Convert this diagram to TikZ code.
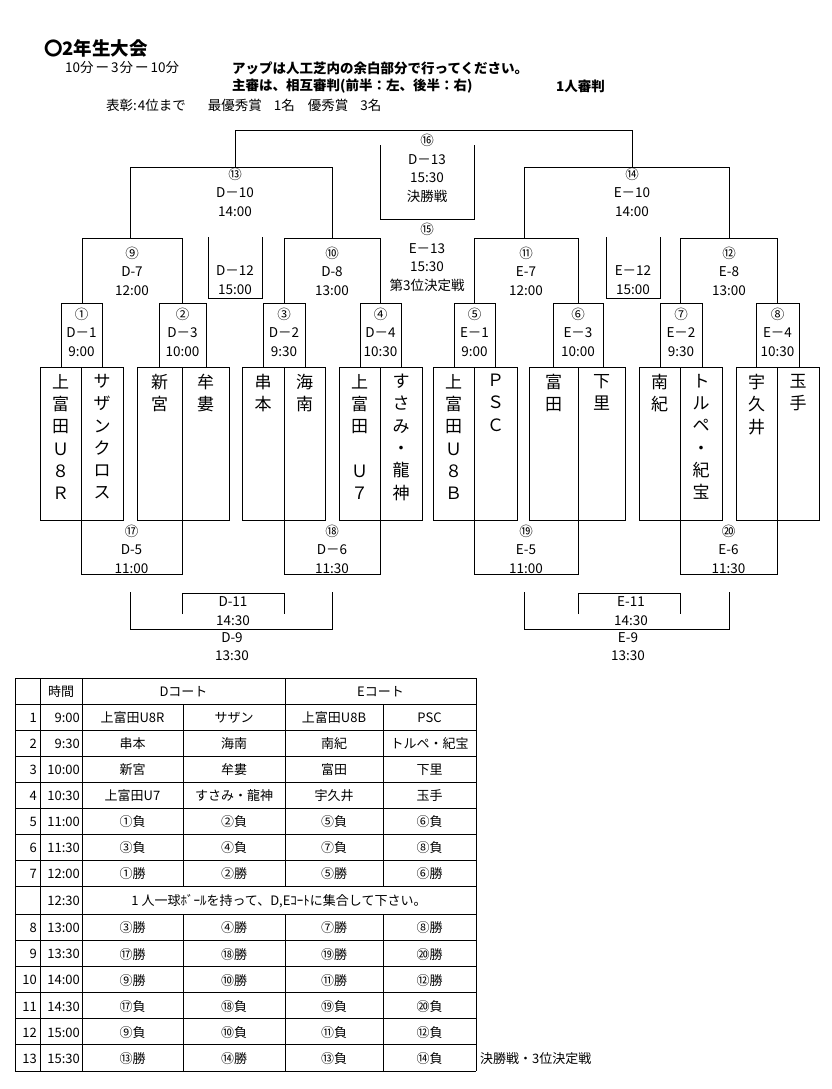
\documentclass[tikz,border=0pt]{standalone}
\usepackage{fontspec}
\setmainfont{Noto Sans CJK JP}
\usetikzlibrary{
  calc,
}
\def\myrowh{26}
\def\mylowh{26.17}
\newcommand{\mybrk}[4]{\draw[brk] (#1,#4) -- (#1,#3) -- (#2,#3) -- (#2,#4);}
\tikzset{
  brk/.style={
    line width=0.9pt
  },
  head/.style={
    anchor=west,
    inner sep=0pt,
    font=\fontsize{13.5}{16}\selectfont
  },
  headbold/.style={
    head,
    font=\fontsize{13.5}{16}\selectfont\bfseries
  },
  lbl/.style={
    align=center,
    inner sep=0pt,
    font=\fontsize{13.5}{18.5}\selectfont
  },
  team/.style={
    align=center,
    anchor=north,
    inner sep=0pt,
    font=\fontsize{17}{22.3}\selectfont
  },
  cell/.style={
    inner sep=0pt,
    font=\fontsize{13}{15}\selectfont
  },
  num/.style={
    cell,
    anchor=east
  }
}
\begin{document}
\begin{tikzpicture}[x=1pt,y=-1pt]
\useasboundingbox (0,0) rectangle (831,1089);

% heading
\node[head,font=\fontsize{18.5}{20}\selectfont\bfseries] (title) at (44,48) {〇2年生大会};
\node[head]     (rule)    at (65,68)  {10分\hspace{2pt}ー\hspace{2pt}3\hspace{1pt}分\hspace{2pt}ー\hspace{2pt}10分};
\node[headbold] (warmup)  at (232,68) {アップは人工芝内の余白部分で行ってください。};
\node[headbold] (referee) at (232,86) {主審は、相互審判(前半：左、後半：右)};
\node[headbold] (oneref)  at (556,86) {1人審判};
\node[head]     (award)   at (106,105) {表彰:\hspace{1pt}4位まで\hspace{22pt}最優秀賞\hspace{12pt}1名\hspace{13pt}優秀賞\hspace{12pt}3名};

% winners side
\mybrk{235}{632}{130}{167}
\mybrk{130}{332}{167}{238}
\mybrk{524}{729}{167}{238}
\mybrk{380}{474}{219}{145}
\mybrk{82}{182}{238}{303}
\mybrk{284}{380}{238}{303}
\mybrk{474}{578}{238}{303}
\mybrk{680}{777}{238}{303}
\mybrk{208}{262}{298}{237}
\mybrk{606}{660}{298}{237}
\foreach \a/\b in {61/102, 159/206, 263/305, 360/401, 454/495, 553/603, 660/702, 756/799}{
  \mybrk{\a}{\b}{303}{367}
}

% teams
\foreach \l/\m/\r in {40/81/123, 137/182/229, 242/284/325, 339/380/422,
                      433/474/517, 529/578/625, 639/680/722, 736/777/819}{
  \draw[brk] (\l,367) rectangle (\r,520) (\m,367) -- (\m,520);
}

\node[team] (kamiR)  at (60.5,374)  {上\\富\\田\\Ｕ\\８\\Ｒ};
\node[team] (sazan)  at (102,374)   {サ\\ザ\\ン\\ク\\ロ\\ス};
\node[team] (shingu) at (159.5,374) {新\\宮};
\node[team] (muro)   at (205.5,374) {牟\\婁};
\node[team] (kushi)  at (263,374)   {串\\本};
\node[team] (kainan) at (304.5,374) {海\\南};
\node[team] (kami7)  at (359.5,374) {上\\富\\田\\{}\\Ｕ\\７};
\node[team] (susami) at (401,374)   {す\\さ\\み\\・\\龍\\神};
\node[team] (kamiB)  at (453.5,374) {上\\富\\田\\Ｕ\\８\\Ｂ};
\node[team] (psc)    at (495.5,374) {Ｐ\\Ｓ\\Ｃ};
\node[team] (tonda)  at (553.5,374) {富\\田};
\node[team] (shimo)  at (601.5,374) {下\\里};
\node[team] (nanki)  at (659.5,374) {南\\紀};
\node[team] (torupe) at (701,374)   {ト\\ル\\ペ\\・\\紀\\宝};
\node[team] (ukui)   at (756.5,374) {宇\\久\\井};
\node[team] (tamate) at (798,374)   {玉\\手};

% losers side
\mybrk{81}{182}{574}{520}
\mybrk{284}{380}{574}{520}
\mybrk{474}{578}{574}{520}
\mybrk{680}{777}{574}{520}
\mybrk{130}{332}{629}{592}
\mybrk{524}{729}{629}{592}
\mybrk{182}{284}{593}{614}
\mybrk{578}{680}{593}{614}

% match labels
\node[lbl] (g16) at (427,168.5) {⑯\\D－13\\15:30\\決勝戦};
\node[lbl] (g15) at (427,257.5) {⑮\\E－13\\15:30\\第3位決定戦};
\node[lbl] (g13) at (235,192) {⑬\\D－10\\14:00};
\node[lbl] (g14) at (632,192) {⑭\\E－10\\14:00};
\node[lbl] (g9)  at (132,271) {⑨\\D-7\\12:00};
\node[lbl] (g10) at (332,271) {⑩\\D-8\\13:00};
\node[lbl] (g11) at (526,271) {⑪\\E-7\\12:00};
\node[lbl] (g12) at (729,271) {⑫\\E-8\\13:00};
\node[lbl] (d12) at (235,280) {D－12\\15:00};
\node[lbl] (e12) at (633,280) {E－12\\15:00};
\node[lbl] (g1) at (81.5,332)  {①\\D－1\\9:00};
\node[lbl] (g2) at (182.5,332) {②\\D－3\\10:00};
\node[lbl] (g3) at (284,332)   {③\\D－2\\9:30};
\node[lbl] (g4) at (380.5,332) {④\\D－4\\10:30};
\node[lbl] (g5) at (474.5,332) {⑤\\E－1\\9:00};
\node[lbl] (g6) at (578,332)   {⑥\\E－3\\10:00};
\node[lbl] (g7) at (681,332)   {⑦\\E－2\\9:30};
\node[lbl] (g8) at (777.5,332) {⑧\\E－4\\10:30};
\node[lbl] (g17) at (131.5,549) {⑰\\D-5\\11:00};
\node[lbl] (g18) at (332,549)   {⑱\\D－6\\11:30};
\node[lbl] (g19) at (526,549)   {⑲\\E-5\\11:00};
\node[lbl] (g20) at (728.5,549) {⑳\\E-6\\11:30};
\node[lbl] (d11) at (233,611)   {D-11\\14:30};
\node[lbl] (d9)  at (232,646.5) {D-9\\13:30};
\node[lbl] (e11) at (631,611)   {E-11\\14:30};
\node[lbl] (e9)  at (628,646.5) {E-9\\13:30};

% schedule table
\foreach \y in {678,704,730,756,782,808,834,860,886}{
  \draw[brk] (15,\y) -- (476,\y);
}
\foreach \i in {0,...,6}{
  \draw[brk] (15,{914+\mylowh*\i}) -- (476,{914+\mylowh*\i});
}
\foreach \x in {15,40,82,476}{
  \draw[brk] (\x,678) -- (\x,1071);
}
\draw[brk] (285,678) -- (285,886) (285,914) -- (285,1071);
\foreach \x in {183,383}{
  \draw[brk] (\x,704) -- (\x,886) (\x,914) -- (\x,1071);
}

\node[cell] (hTime) at (61,692)    {時間};
\node[cell] (hD)    at (183.5,692) {Dコート};
\node[cell] (hE)    at (380.5,692) {Eコート};

\foreach \n/\t/\da/\db/\ea/\eb [count=\k] in {
  1/9:00/上富田U8R/サザン/上富田U8B/PSC,
  2/9:30/串本/海南/南紀/トルペ・紀宝,
  3/10:00/新宮/牟婁/富田/下里,
  4/10:30/上富田U7/すさみ・龍神/宇久井/玉手,
  5/11:00/①負/②負/⑤負/⑥負,
  6/11:30/③負/④負/⑦負/⑧負,
  7/12:00/①勝/②勝/⑤勝/⑥勝}{
  \pgfmathsetmacro\ry{704+\myrowh*(\k-1)+14}
  \node[num]  (no\k) at (37,\ry)    {\n};
  \node[num]  (ti\k) at (80,\ry)    {\t};
  \node[cell] (da\k) at (132.5,\ry) {\da};
  \node[cell] (db\k) at (234,\ry)   {\db};
  \node[cell] (ea\k) at (334,\ry)   {\ea};
  \node[cell] (eb\k) at (429.5,\ry) {\eb};
}

\node[num]  (ti1230) at (80,901)  {12:30};
\node[cell] (notice) at (279,901) {1 人一球ﾎﾞｰﾙを持って、D,Eｺｰﾄに集合して下さい。};

\foreach \n/\t/\da/\db/\ea/\eb [count=\k] in {
  8/13:00/③勝/④勝/⑦勝/⑧勝,
  9/13:30/⑰勝/⑱勝/⑲勝/⑳勝,
  10/14:00/⑨勝/⑩勝/⑪勝/⑫勝,
  11/14:30/⑰負/⑱負/⑲負/⑳負,
  12/15:00/⑨負/⑩負/⑪負/⑫負,
  13/15:30/⑬勝/⑭勝/⑬負/⑭負}{
  \pgfmathsetmacro\ry{914+\mylowh*(\k-1)+14}
  \node[num]  (nob\k) at (37,\ry)    {\n};
  \node[num]  (tib\k) at (80,\ry)    {\t};
  \node[cell] (dab\k) at (132.5,\ry) {\da};
  \node[cell] (dbb\k) at (234,\ry)   {\db};
  \node[cell] (eab\k) at (334,\ry)   {\ea};
  \node[cell] (ebb\k) at (429.5,\ry) {\eb};
}

\node[cell,anchor=west] (finals) at (480,1059) {決勝戦・3位決定戦};
\end{tikzpicture}
\end{document}
